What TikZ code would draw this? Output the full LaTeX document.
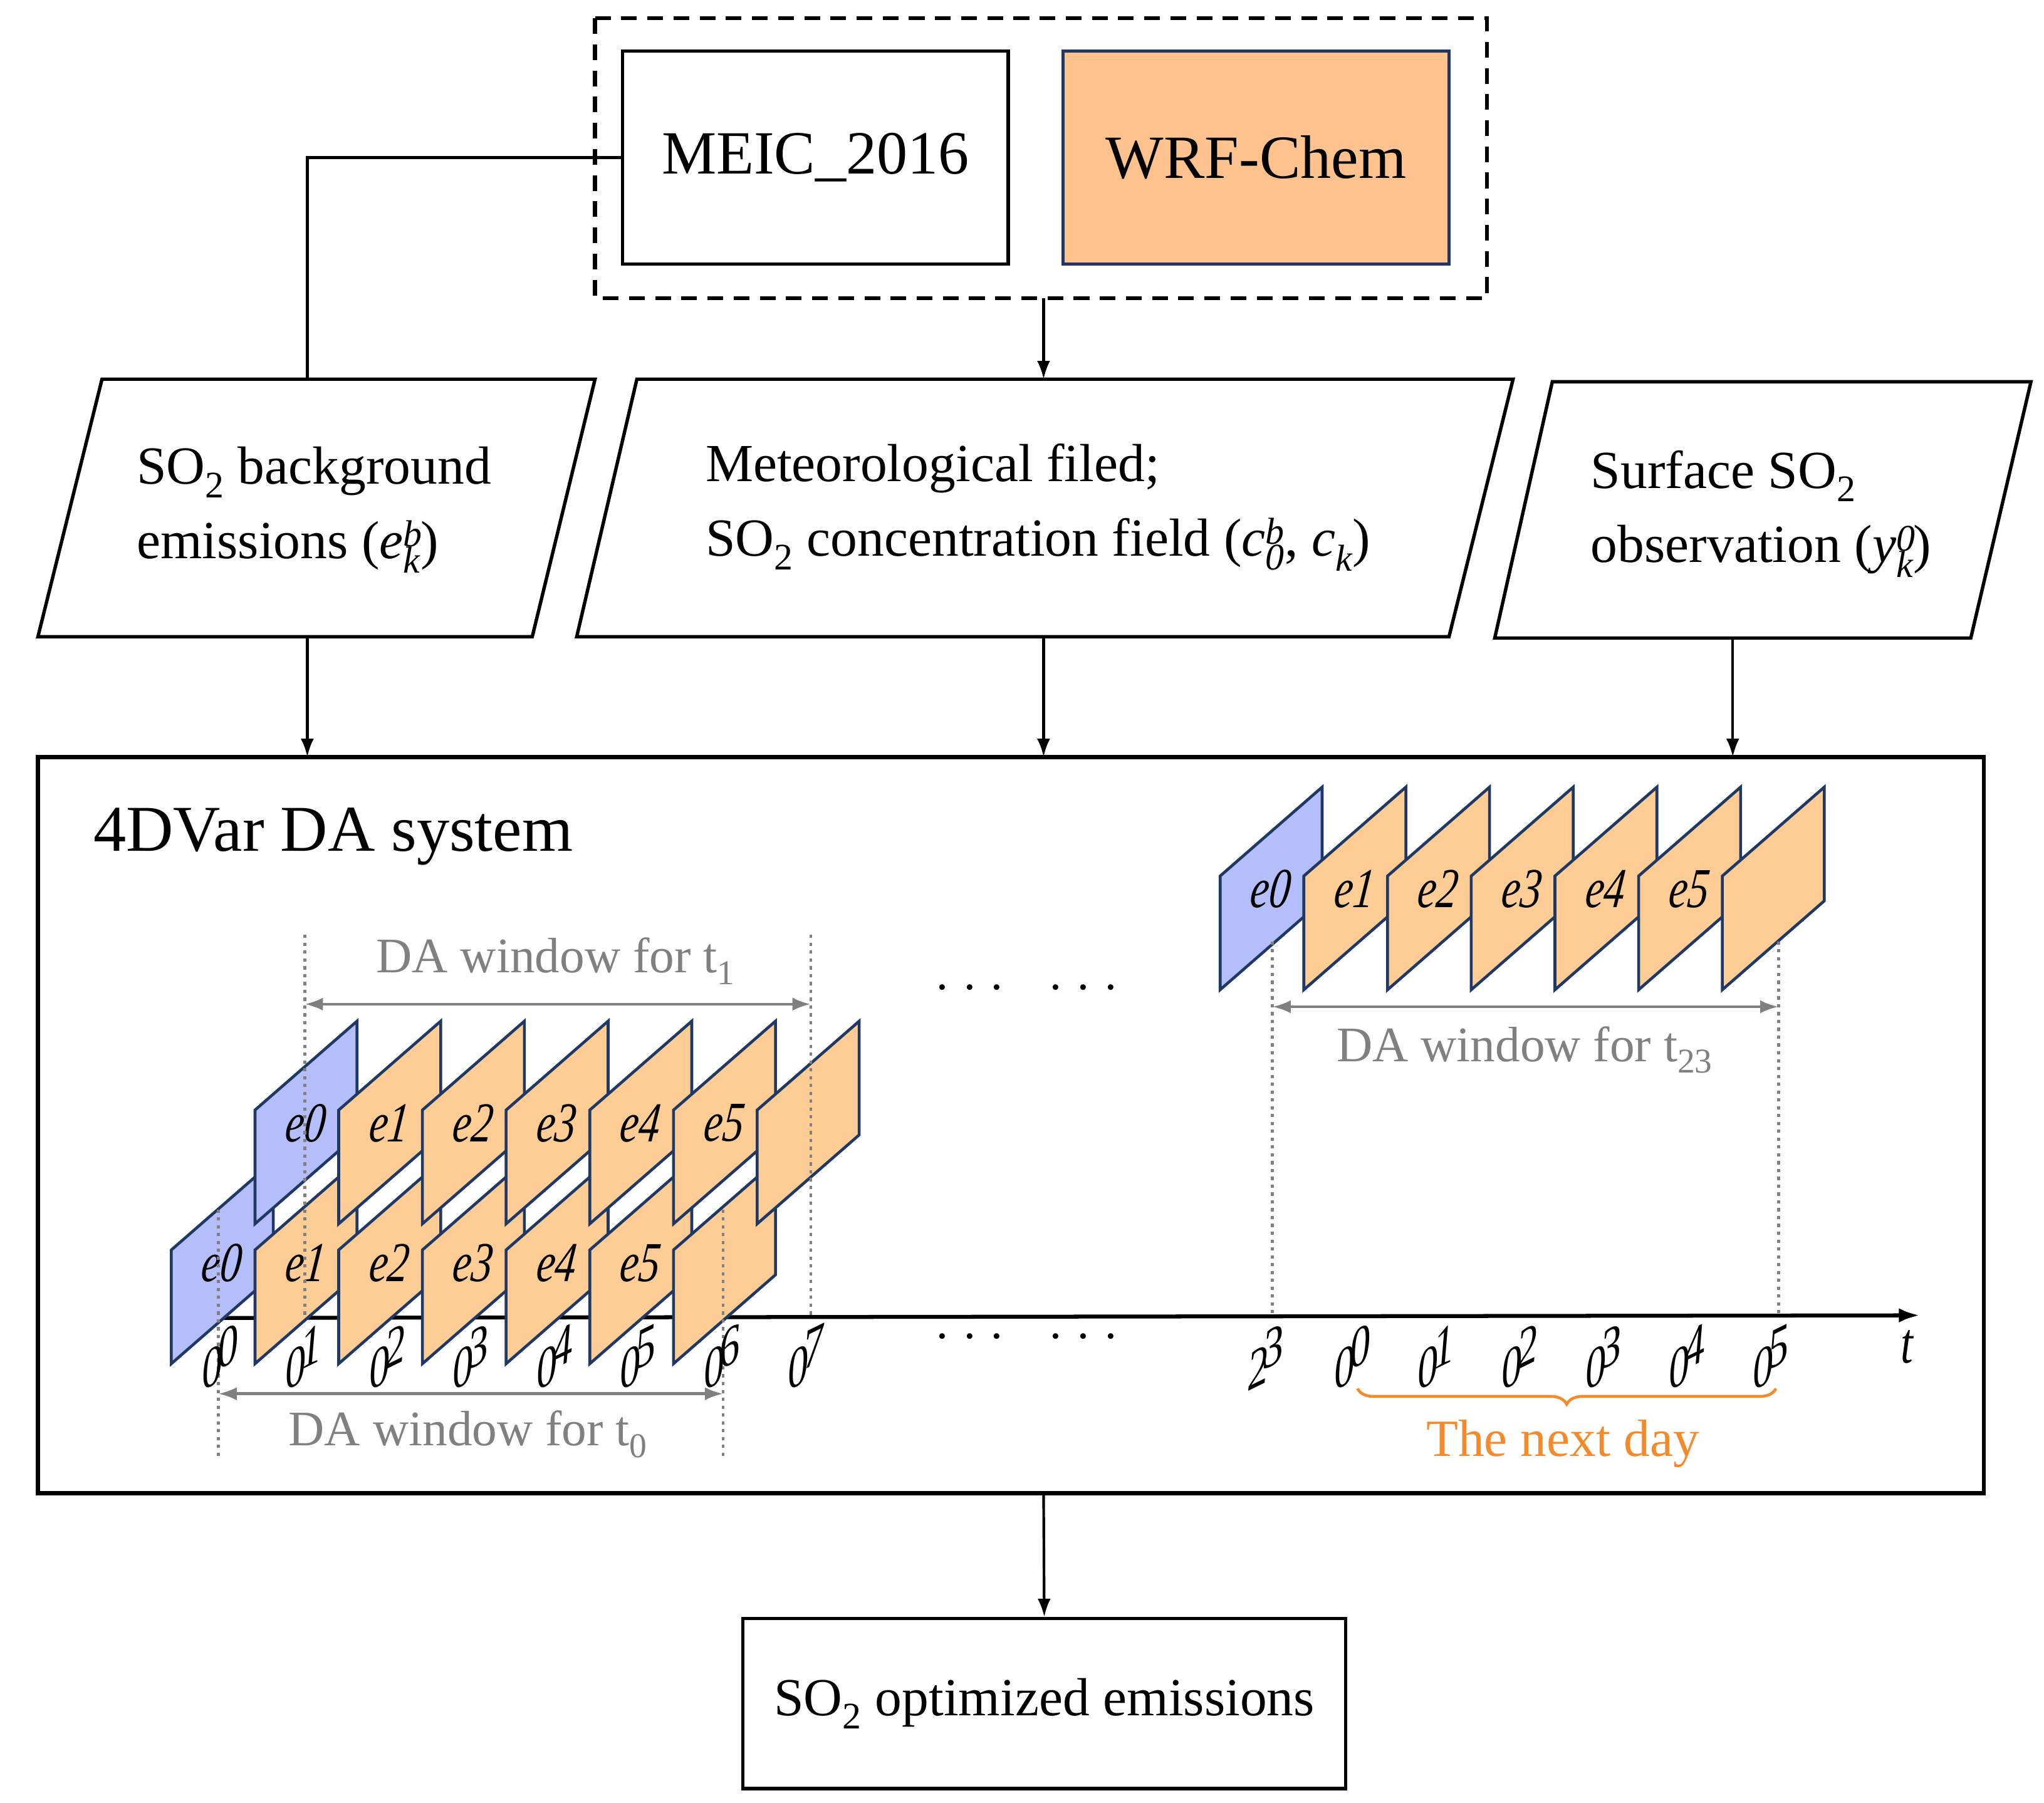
\documentclass[tikz,border=0pt]{standalone}
\usepackage{fontspec}
\setmainfont{Liberation Serif}
\usetikzlibrary{arrows.meta,decorations.pathreplacing}
\definecolor{org}{HTML}{FDCD95}
\definecolor{wrf}{HTML}{FDC28D}
\definecolor{blu}{HTML}{B4BEFB}
\definecolor{nav}{HTML}{1F3864}
\definecolor{gry}{HTML}{808080}
\definecolor{otx}{HTML}{F58A2C}
\newcommand\fs[1]{\fontsize{#1}{#1}\selectfont}
\newcommand\ssb[3]{\textit{#1}\rlap{\textsuperscript{\itshape #3}}\textsubscript{\itshape #2}}
\newcommand\pnl[4]{%
  \filldraw[panel,fill=#3] (#1,#2) -- ++(0,-87) -- ++(78,-68) -- ++(0,87) -- cycle;
  \node[elab] at (#1+39,#2-77) {#4};}
\newcommand\tk[3]{%
  \node[tdig] at (#1-6,1046) {#2};
  \node[tdig] at (#1+6,1030) {#3};}
\tikzset{
  panel/.style={draw=nav,line width=2.2pt,line join=miter},
  elab/.style={font=\fs{32}\itshape,yscale=1.35,xslant=0.15},
  tdig/.style={font=\fs{30}\itshape,yscale=1.5,xslant=0.3,rotate=20,inner sep=0pt},
  dots/.style={gry,line width=2.2pt,dash pattern=on 2.5pt off 3.5pt},
  win/.style={gry,line width=2.2pt,{Latex[length=14pt,width=10pt]}-{Latex[length=14pt,width=10pt]}},
  wtxt/.style={gry,font=\fs{38}},
  box/.style={draw,line width=2.6pt},
  arr/.style={line width=2pt,-{Latex[length=14pt,width=10pt]}},
  ln/.style={line width=2pt},
  txt/.style={font=\fs{41},align=left,anchor=west}
}
\begin{document}
\begin{tikzpicture}[x=1pt,y=-1pt]
\useasboundingbox (0,0) rectangle (1563,1379);
% top
\draw[line width=3pt,dash pattern=on 12pt off 8pt] (455,14) rectangle (1137,228);
\node[box,minimum width=295,minimum height=163,font=\fs{47}] (meic) at (623.5,120.5) {MEIC\_2016};
\node[draw=nav,line width=2.6pt,fill=wrf,minimum width=295,minimum height=163,font=\fs{47}] (wrf) at (960.5,120.5) {WRF-Chem};
\coordinate (dbot) at (798,228);
% parallelograms
\draw[ln,line width=2.6pt] (78,290) -- (455,290) -- (407,487) -- (29,487) -- cycle;
\draw[ln,line width=2.6pt] (487,290) -- (1157,290) -- (1108,487) -- (441,487) -- cycle;
\draw[ln,line width=2.6pt] (1187,292) -- (1553,292) -- (1507,488) -- (1143,488) -- cycle;
\coordinate (p1t) at (235,290); \coordinate (p1b) at (235,487);
\coordinate (p2t) at (798,290); \coordinate (p2b) at (798,487);
\coordinate (p3b) at (1325,488);
\node[txt] (t1) at (101,390) {SO\textsubscript{2} background\\[16pt]emissions (\ssb{e}{k}{b})};
\node[txt] (t2) at (536,388) {Meteorological filed;\\[16pt]SO\textsubscript{2} concentration field (\ssb{c}{0}{b}, \textit{c}\textsubscript{\itshape k})};
\node[txt] (t3) at (1213,393) {Surface SO\textsubscript{2}\\[16pt]observation (\ssb{y}{k}{0})};
% main box
\draw[box,line width=3pt] (29,579) rectangle (1517,1142);
\coordinate (m1) at (235,579); \coordinate (m2) at (798,579); \coordinate (m3) at (1325,579);
\coordinate (mb) at (798,1142);
\node[font=\fs{50},anchor=west] (title) at (68,640) {4DVar DA system};
% output
\node[box,minimum width=461,minimum height=130,font=\fs{41}] (out) at (798.5,1303) {SO\textsubscript{2} optimized emissions};
% connectors
\draw[ln] (meic.west) -- (235,120.5) -- (p1t);
\draw[arr] (dbot) -- (p2t);
\draw[arr] (p1b) -- (m1);
\draw[arr] (p2b) -- (m2);
\draw[arr] (p3b) -- (m3);
\draw[arr] (mb) -- (out.north);
% axis
\coordinate (a0) at (160,1008); \coordinate (a1) at (1468,1006);
\draw[line width=3pt,-{Latex[length=16pt,width=11pt]}] (a0) -- (a1);
\node[font=\fs{34}\itshape,yscale=1.3] (tl) at (1458,1030) {t};
% left panels
\pnl{131}{1043}{blu}{e0}
\foreach \i/\l in {1/e1,2/e2,3/e3,4/e4,5/e5,6/{}} {\pnl{131+64*\i}{1043}{org}{\l}}
\pnl{195}{936}{blu}{e0}
\foreach \i/\l in {1/e1,2/e2,3/e3,4/e4,5/e5,6/{}} {\pnl{195+64*\i}{936}{org}{\l}}
% right panels
\pnl{933}{757}{blu}{e0}
\foreach \i/\l in {1/e1,2/e2,3/e3,4/e4,5/e5,6/{}} {\pnl{933+64*\i}{757}{org}{\l}}
% dotted lines
\draw[dots] (167,925) -- (167,1115);
\draw[dots] (553,925) -- (553,1115);
\draw[dots] (233,715) -- (233,1008);
\draw[dots] (620,715) -- (620,1008);
\draw[dots] (973,720) -- (973,1007);
\draw[dots] (1360,720) -- (1360,1006);
% windows
\coordinate (w1a) at (233,768); \coordinate (w1b) at (620,768);
\draw[win] (w1a) -- (w1b);
\node[wtxt] (w1t) at (425,735) {DA window for t\textsubscript{1}};
\coordinate (w0a) at (167,1066); \coordinate (w0b) at (553,1066);
\draw[win] (w0a) -- (w0b);
\node[wtxt] (w0t) at (358,1097) {DA window for t\textsubscript{0}};
\coordinate (w2a) at (973,770); \coordinate (w2b) at (1360,770);
\draw[win] (w2a) -- (w2b);
\node[wtxt] (w2t) at (1166,803) {DA window for t\textsubscript{23}};
% ticks
\foreach \i in {0,...,7} {\tk{168+64*\i}{0}{\i}}
\tk{968}{2}{3}
\foreach \i in {0,...,5} {\tk{1034+64*\i}{0}{\i}}
% dots
\node[font=\fs{36}] (d1) at (785,755) {.\,\,.\,\,.\quad.\,\,.\,\,.};
\node[font=\fs{36}] (d2) at (785,1022) {.\,\,.\,\,.\quad.\,\,.\,\,.};
% brace
\coordinate (b0) at (1038,1062); \coordinate (b1) at (1358,1062);
\draw[otx,line width=2.2pt,decorate,decoration={brace,mirror,amplitude=12pt}] (b0) -- (b1);
\node[otx,font=\fs{40}] (nd) at (1195,1104) {The next day};
\end{tikzpicture}
\end{document}
